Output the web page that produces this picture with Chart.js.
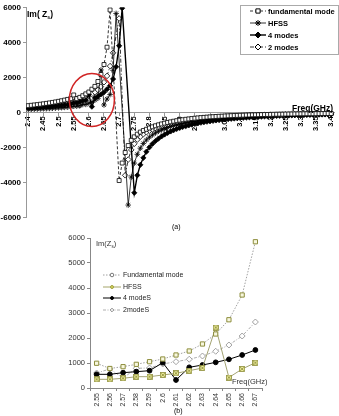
<!doctype html>
<html>
<head>
<meta charset="UTF-8">
<title>Im(Zs)</title>
<style>
  html, body { margin:0; padding:0; background:#fff; }
  body { width:339px; height:416px; position:relative; overflow:hidden; font-family:"Liberation Sans", Arial, sans-serif; }
  .box { position:absolute; }
  .lbl { position:absolute; white-space:nowrap; line-height:1; color:#000; }
  .lbl sub { font-size:60%; vertical-align:-2px; }
</style>
</head>
<body>
<div class="box" style="left:0;top:0;width:339px;height:225px"><canvas id="chartA"></canvas></div>
<div class="box" style="left:0;top:228px;width:339px;height:188px"><canvas id="chartB"></canvas></div>

<div class="lbl" style="left:27px;top:10px;font-weight:bold;font-size:8.5px">Im( Z<sub>s</sub>)</div>
<div class="lbl" style="left:292px;top:104px;font-weight:bold;font-size:8.5px">Freq(GHz)</div>
<div class="lbl" style="left:172px;top:223px;font-size:7px">(a)</div>
<div class="lbl" style="left:96px;top:240px;font-size:7.5px;color:#333">Im(Z<sub>s</sub>)</div>
<div class="lbl" style="left:232px;top:378px;font-size:7.5px;color:#333">Freq(GHz)</div>
<div class="lbl" style="left:174px;top:407px;font-size:7px">(b)</div>

<script src="https://cdn.jsdelivr.net/npm/chart.js@4/dist/chart.umd.min.js"></script>
<script>
// ---- chart (a): full sweep ----
const freqA = [2.40,2.41,2.42,2.43,2.44,2.45,2.46,2.47,2.48,2.49,
  2.50,2.51,2.52,2.53,2.54,2.55,2.56,2.57,2.58,2.59,
  2.60,2.61,2.62,2.63,2.64,2.65,2.66,2.67,2.68,2.69,
  2.70,2.71,2.72,2.73,2.74,2.75,2.76,2.77,2.78,2.79,
  2.80,2.81,2.82,2.83,2.84,2.85,2.86,2.87,2.88,2.89,
  2.90,2.91,2.92,2.93,2.94,2.95,2.96,2.97,2.98,2.99,
  3.00,3.01,3.02,3.03,3.04,3.05,3.06,3.07,3.08,3.09,
  3.10,3.11,3.12,3.13,3.14,3.15,3.16,3.17,3.18,3.19,
  3.20,3.21,3.22,3.23,3.24,3.25,3.26,3.27,3.28,3.29,
  3.30,3.31,3.32,3.33,3.34,3.35,3.36,3.37,3.38,3.39,3.40];

const fundA = [380,400,420,440,462,485,510,536,564,594,626,660,697,737,780,
  990,780,853,947,1053,1160,1320,1480,1760,2160,2730,3720,5850,
  null,null,
  -3900,-2900,-2300,-1900,-1600,-1400,-1250,-1130,-1040,-970,-900,
  -830,-770,-715,-665,-620,-580,-545,-510,-480,-450,
  -425,-400,-378,-357,-338,-320,-304,-289,-275,-262,
  -250,-239,-228,-218,-209,-200,-192,-184,-177,-170,
  -164,-158,-152,-147,-142,-137,-132,-128,-124,-120,
  -116,-112,-109,-106,-103,-100,-97,-94,-91,-89,
  -86,-84,-82,-80,-78,-76,-74,-72,-70,-68];

const hfssA = [170,176,182,189,196,204,212,221,231,242,254,267,281,297,320,
  347,347,387,453,453,520,587,693,800,2420,420,760,1013,
  2400,5650,null,null,null,
  -5300,-3700,-2900,-2400,-2050,-1780,-1580,-1420,
  -1290,-1180,-1085,-1005,-935,-872,-815,-765,-720,-678,
  -640,-605,-573,-543,-515,-490,-466,-444,-423,-403,
  -385,-368,-352,-337,-323,-310,-297,-285,-274,-263,
  -253,-243,-234,-225,-217,-209,-201,-194,-187,-181,
  -175,-169,-163,-158,-153,-148,-143,-139,-135,-131,
  -127,-123,-120,-116,-113,-110,-107,-104,-101,-98];

const modes4A = [240,250,261,272,284,297,311,326,342,359,377,397,420,446,480,
  547,547,613,653,693,1013,320,827,920,1027,1147,1320,1520,
  1900,2600,3800,5950,null,null,null,
  -4600,-3600,-3000,-2600,-2250,-2000,
  -1800,-1640,-1500,-1380,-1270,-1180,-1095,-1020,-955,-895,
  -840,-790,-745,-703,-665,-630,-597,-567,-539,-513,
  -489,-466,-445,-425,-406,-389,-372,-357,-342,-328,
  -315,-303,-291,-280,-269,-259,-250,-241,-232,-224,
  -216,-209,-202,-195,-189,-183,-177,-171,-166,-161,
  -156,-151,-147,-142,-138,-134,-130,-127,-123,-120];

const modes2A = [300,310,321,333,346,360,375,391,408,426,445,466,489,514,540,
  600,760,400,787,800,960,1053,1150,1280,1470,1720,2080,2640,
  3400,null,5360,null,
  -3600,-2700,-2150,-1800,-1560,-1390,-1250,-1140,-1050,
  -980,-910,-850,-795,-745,-700,-655,-615,-578,-545,
  -515,-487,-461,-437,-415,-394,-375,-357,-340,-324,
  -309,-295,-282,-270,-258,-247,-237,-227,-218,-209,
  -201,-193,-186,-179,-172,-166,-160,-154,-149,-144,
  -139,-134,-130,-126,-122,-118,-114,-111,-108,-105,
  -102,-99,-96,-93,-91,-88,-86,-84,-82,-80];

const ticksA = [2.4,2.45,2.5,2.55,2.6,2.65,2.7,2.75,2.8,2.85,2.9,2.95,3,
  3.05,3.1,3.15,3.2,3.25,3.3,3.35,3.4];
const yTicksA = [-6000,-4000,-2000,0,2000,4000,6000];
const namesA = ['fundamental mode','HFSS','4 modes','2 modes'];

// ---- chart (b): zoom on the circled part ----
const freqB = ['2.55','2.56','2.57','2.58','2.59','2.6','2.61','2.62','2.63','2.64','2.65','2.66','2.67'];
const fundB = [990,780,853,947,1053,1160,1320,1480,1760,2160,2730,3720,5850];
const hfssB = [347,347,387,453,453,520,587,693,800,2420,420,760,1013];
const modes4B = [547,547,613,653,693,1013,320,827,920,1027,1147,1320,1520];
const modes2B = [600,760,400,787,800,960,1053,1150,1280,1470,1720,2080,2640];
const namesB = ['Fundamental mode','HFSS','4 modeS','2modeS'];

Chart.defaults.font.family = '"Liberation Sans", Arial, sans-serif';

function xy(ys) {
  return freqA.map(function(f, i){ return {x: f, y: ys[i]}; });
}

// yellow box with a cross, used for HFSS in (b)
function boxCross() {
  const c = document.createElement('canvas');
  c.width = 6; c.height = 6;
  const g = c.getContext('2d');
  g.fillStyle = '#eeee9c';
  g.fillRect(0.5, 0.5, 5, 5);
  g.strokeStyle = '#8c8c3a';
  g.lineWidth = 0.8;
  g.strokeRect(0.5, 0.5, 5, 5);
  g.beginPath();
  g.moveTo(1.2, 1.2); g.lineTo(4.8, 4.8);
  g.moveTo(4.8, 1.2); g.lineTo(1.2, 4.8);
  g.stroke();
  return c;
}

function drawLegend(ctx, rows, x0, y0s, lineLen, font, color) {
  ctx.save();
  ctx.font = font;
  ctx.textBaseline = 'middle';
  rows.forEach(function(r, i){
    const y = y0s[i];
    ctx.strokeStyle = r.line;
    ctx.lineWidth = r.lw;
    ctx.setLineDash(r.dash || []);
    ctx.beginPath();
    ctx.moveTo(x0, y); ctx.lineTo(x0 + lineLen, y);
    ctx.stroke();
    ctx.setLineDash([]);
    ctx.fillStyle = r.fill;
    ctx.strokeStyle = r.stroke;
    ctx.lineWidth = 1;
    Chart.helpers.drawPoint(ctx, {pointStyle: r.style, radius: r.r, rotation: 0, borderWidth: 1}, x0 + lineLen / 2, y);
    ctx.fillStyle = color;
    ctx.fillText(r.text, x0 + lineLen + 2, y + 0.5);
  });
  ctx.restore();
}

const extrasA = {
  id: 'extrasA',
  afterDraw: function(chart) {
    const ctx = chart.ctx;
    const sx = chart.scales.x, sy = chart.scales.y;
    // red circle round the zoomed part
    ctx.save();
    ctx.strokeStyle = '#d02424';
    ctx.lineWidth = 1.5;
    ctx.beginPath();
    ctx.ellipse(sx.getPixelForValue(2.61), sy.getPixelForValue(700), 22.5, 26.5, 0, 0, Math.PI * 2);
    ctx.stroke();
    // legend box
    ctx.fillStyle = '#fff';
    ctx.fillRect(240.5, 5.5, 98, 49);
    ctx.strokeStyle = '#aaa';
    ctx.lineWidth = 1;
    ctx.strokeRect(240.5, 5.5, 98, 49);
    ctx.restore();
    drawLegend(ctx, [
      {text: namesA[0], line:'#000', lw:0.8, dash:[3,2], style:'rect', r:3, fill:'#fff', stroke:'#000'},
      {text: namesA[1], line:'#000', lw:0.8, style:'star', r:3, fill:'#000', stroke:'#000'},
      {text: namesA[2], line:'#000', lw:1.4, style:'rectRot', r:3, fill:'#000', stroke:'#000'},
      {text: namesA[3], line:'#000', lw:0.8, dash:[4,2,1,2], style:'rectRot', r:3, fill:'#fff', stroke:'#000'}
    ], 250, [11, 23, 35, 47], 16, 'bold 7.5px "Liberation Sans", Arial, sans-serif', '#000');
  }
};

new Chart(document.getElementById('chartA'), {
  type: 'line',
  data: {
    datasets: [
      {label: namesA[0], data: xy(fundA), borderColor:'#000', borderWidth:0.8, borderDash:[3,2],
       pointStyle:'rect', pointRadius:2.8, pointBackgroundColor:'#fff', pointBorderColor:'#000', pointBorderWidth:0.8, spanGaps:true},
      {label: namesA[1], data: xy(hfssA), borderColor:'#000', borderWidth:0.8,
       pointStyle:'star', pointRadius:2.8, pointBorderColor:'#000', pointBorderWidth:0.8, spanGaps:true},
      {label: namesA[2], data: xy(modes4A), borderColor:'#000', borderWidth:1.4,
       pointStyle:'rectRot', pointRadius:2.6, pointBackgroundColor:'#000', pointBorderColor:'#000', pointBorderWidth:0.8, spanGaps:true},
      {label: namesA[3], data: xy(modes2A), borderColor:'#000', borderWidth:0.8, borderDash:[4,2,1,2],
       pointStyle:'rectRot', pointRadius:2.8, pointBackgroundColor:'#fff', pointBorderColor:'#000', pointBorderWidth:0.8, spanGaps:true}
    ]
  },
  options: {
    responsive: true, maintainAspectRatio: false, animation: false,
    layout: {padding: {left:0, right:3, top:7.3, bottom:7.7}},
    plugins: {legend: {display:false}, tooltip: {enabled:false}},
    scales: {
      x: {
        type: 'linear', position: {y: 0}, min: 2.3925, max: 3.41,
        afterBuildTicks: function(s){ s.ticks = ticksA.map(function(v){ return {value: v}; }); },
        afterFit: function(s){ s.paddingLeft = 0; s.paddingRight = 0; },
        grid: {drawOnChartArea:false, tickLength:3, color:'#999'},
        border: {color:'#999'},
        ticks: {autoSkip:false, maxRotation:90, minRotation:90, padding:1, color:'#000',
                font: {size:7.5, weight:'bold'},
                callback: function(v){ return String(+v.toFixed(2)); }}
      },
      y: {
        min: -6000, max: 6000,
        afterBuildTicks: function(s){ s.ticks = yTicksA.map(function(v){ return {value: v}; }); },
        afterFit: function(s){ s.width = 26; },
        grid: {drawOnChartArea:false, tickLength:3, color:'#999'},
        border: {color:'#999'},
        ticks: {padding:2, color:'#000', font: {size:8, weight:'bold'},
                callback: function(v){ return String(v); }}
      }
    }
  },
  plugins: [extrasA]
});

const extrasB = {
  id: 'extrasB',
  afterDraw: function(chart) {
    drawLegend(chart.ctx, [
      {text: namesB[0], line:'#888', lw:0.8, dash:[1.5,1.5], style:'circle', r:1.8, fill:'#fff', stroke:'#777'},
      {text: namesB[1], line:'#a5a56a', lw:1, style:'circle', r:1.5, fill:'#d8d860', stroke:'#a0a040'},
      {text: namesB[2], line:'#000', lw:1, style:'circle', r:1.5, fill:'#000', stroke:'#000'},
      {text: namesB[3], line:'#999', lw:0.8, dash:[3,1.5,1,1.5], style:'rectRot', r:1.8, fill:'#fff', stroke:'#888'}
    ], 103, [47, 59, 70, 82], 18, '7px "Liberation Sans", Arial, sans-serif', '#222');
  }
};

new Chart(document.getElementById('chartB'), {
  type: 'line',
  data: {
    labels: freqB,
    datasets: [
      {label: namesB[0], data: fundB, borderColor:'#8a8a8a', borderWidth:0.8, borderDash:[1.5,1.5],
       pointStyle:'rect', pointRadius:3, pointBackgroundColor:'#f7f7de', pointBorderColor:'#8d8d3c', pointBorderWidth:1},
      {label: namesB[1], data: hfssB, borderColor:'#a3a373', borderWidth:1,
       pointStyle: boxCross()},
      {label: namesB[2], data: modes4B, borderColor:'#000', borderWidth:1,
       pointStyle:'circle', pointRadius:2.4, pointBackgroundColor:'#000', pointBorderColor:'#000', pointBorderWidth:1},
      {label: namesB[3], data: modes2B, borderColor:'#9a9a9a', borderWidth:0.8, borderDash:[3,1.5,1,1.5],
       pointStyle:'rectRot', pointRadius:3, pointBackgroundColor:'#fff', pointBorderColor:'#8a8a8a', pointBorderWidth:0.8}
    ]
  },
  options: {
    responsive: true, maintainAspectRatio: false, animation: false,
    layout: {padding: {left:0, right:77, top:10, bottom:0}},
    plugins: {legend: {display:false}, tooltip: {enabled:false}},
    scales: {
      x: {
        type: 'category', offset: true,
        afterFit: function(s){ s.height = 28; s.paddingLeft = 0; s.paddingRight = 0; },
        grid: {offset:true, drawOnChartArea:false, tickLength:3, color:'#888'},
        border: {color:'#888'},
        ticks: {autoSkip:false, maxRotation:90, minRotation:90, padding:2, color:'#333', font: {size:7}}
      },
      y: {
        min: 0, max: 6000,
        afterFit: function(s){ s.width = 90; },
        grid: {drawOnChartArea:false, tickLength:3, color:'#888'},
        border: {color:'#888'},
        ticks: {stepSize:1000, padding:2, color:'#333', font: {size:7.5},
                callback: function(v){ return String(v); }}
      }
    }
  },
  plugins: [extrasB]
});
</script>
</body>
</html>
